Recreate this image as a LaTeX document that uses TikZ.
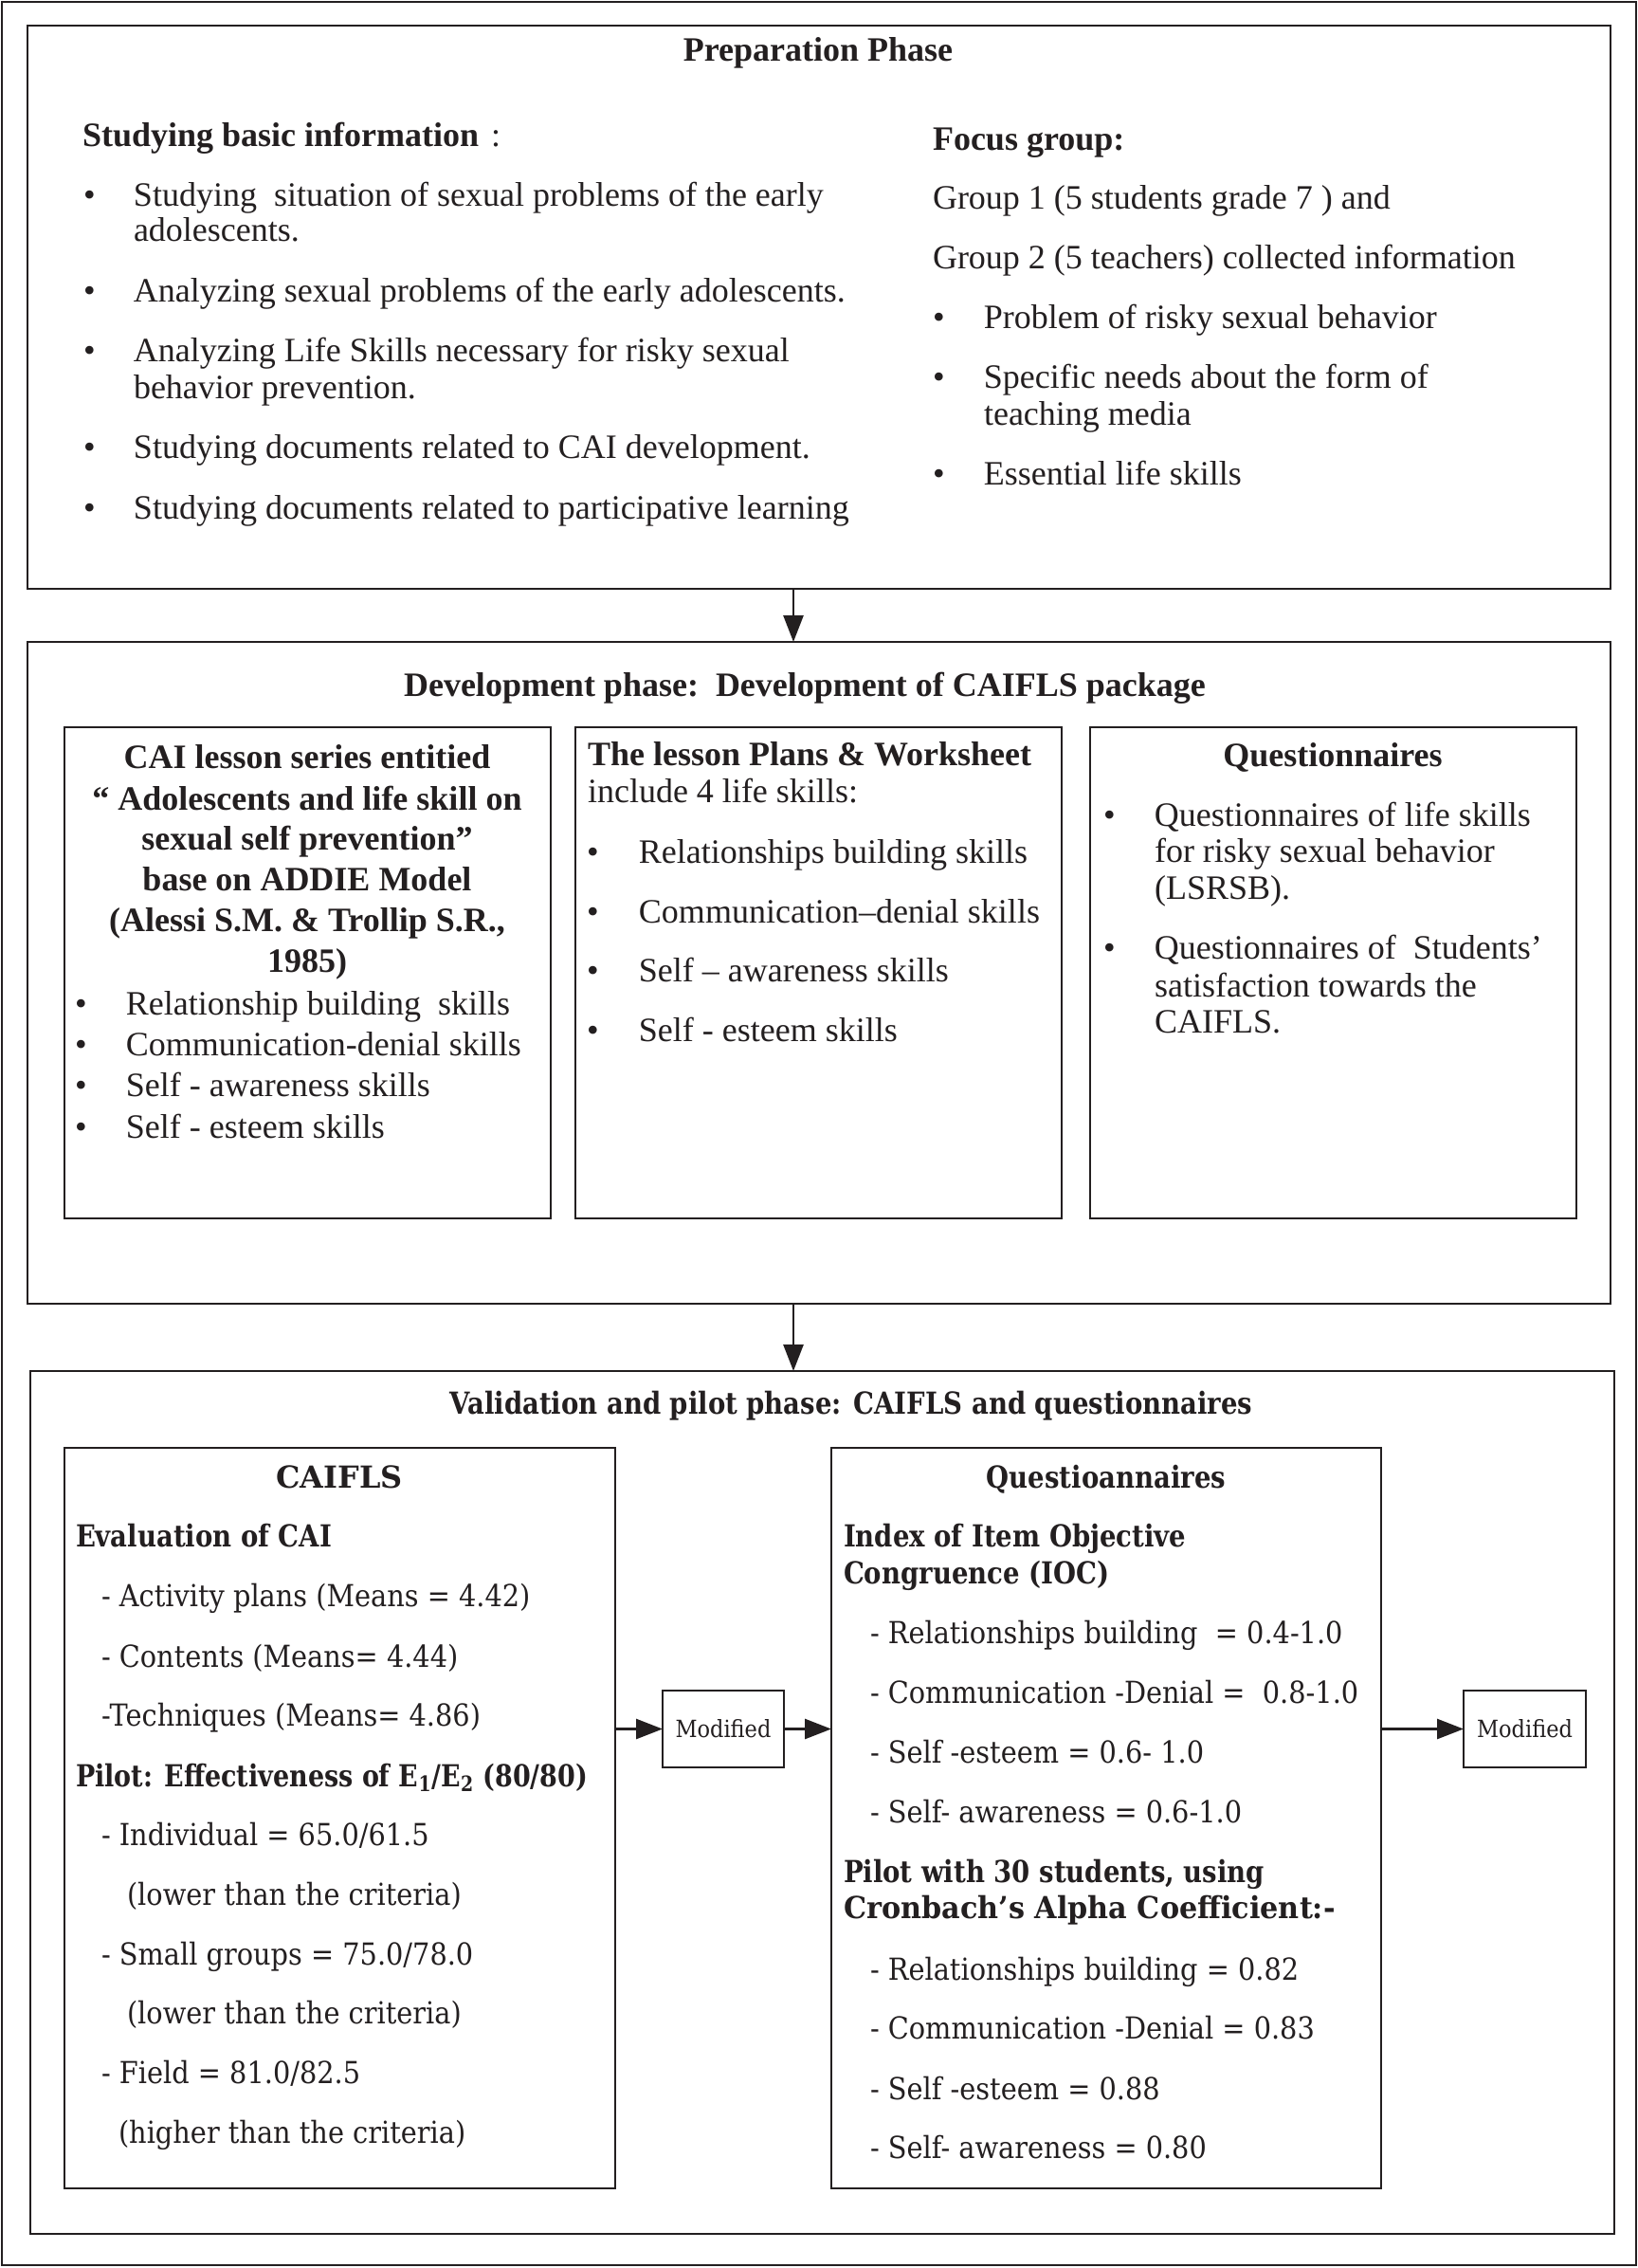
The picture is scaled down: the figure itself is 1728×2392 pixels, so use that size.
\documentclass[tikz,border=0pt]{standalone}
\usepackage{fontspec}
\setmainfont{Liberation Serif}
\newfontfamily\valfont[FakeStretch=0.90,BoldFeatures={FakeStretch=0.86}]{DejaVu Serif}
\usetikzlibrary{arrows.meta}
\definecolor{ink}{RGB}{35,31,32}
\newcommand\mybox[6][]{%
  \pgfmathsetmacro\bw{(#5-#3)*0.5}%
  \pgfmathsetmacro\bh{(#6-#4)*0.5}%
  \node[boxst,#1,minimum width=\bw pt,minimum height=\bh pt,anchor=north west] (#2) at (#3,#4) {};}
\newcommand\bul[1]{\makebox[#1][l]{\kern-3pt\textbullet}}
\tikzset{
  boxst/.style={draw=ink,line width=1.2pt,rectangle,inner sep=0pt,outer sep=0pt},
  tx/.style={inner sep=0pt,outer sep=0pt,anchor=base west,text=ink,font=\fontsize{18}{21}\selectfont},
  txb/.style={tx,font=\fontsize{18}{21}\selectfont\bfseries},
  txbc/.style={txb,anchor=base},
  vt/.style={inner sep=0pt,outer sep=0pt,anchor=base west,text=ink,font=\valfont\fontsize{16}{19}\selectfont},
  vtb/.style={vt,font=\valfont\fontsize{16}{19}\selectfont\bfseries},
  vtbc/.style={vtb,anchor=base},
  modt/.style={inner sep=0pt,outer sep=0pt,anchor=center,text=ink,font=\valfont\fontsize{12.5}{14}\selectfont},
  arr/.style={draw=ink,line width=1.35pt,-{Triangle[length=14pt,width=10.5pt]}},
}
\begin{document}
\begin{tikzpicture}[x=0.5pt,y=-0.5pt]
\useasboundingbox (0,0) rectangle (1728,2392);
\fill[white] (0,0) rectangle (1728,2392);
\draw[ink,line width=1.1pt] (2,2) rectangle (1726,2389);

% ---------------- Preparation phase
\mybox{prep}{29}{27}{1699}{621}
\node[txbc] (pt) at (863,65) {Preparation Phase};
\node[tx] (p0) at (87,155) {{\bfseries Studying basic information}\hspace{6.5pt}:};
\node[tx] (p1) at (94,218) {\bul{23.5pt}Studying\ \ situation of sexual problems of the early};
\node[tx] (p1b) at (141,255) {adolescents.};
\node[tx] (p2) at (94,318) {\bul{23.5pt}Analyzing sexual problems of the early adolescents.};
\node[tx] (p3) at (94,381) {\bul{23.5pt}Analyzing Life Skills necessary for risky sexual};
\node[tx] (p3b) at (141,420) {behavior prevention.};
\node[tx] (p4) at (94,483) {\bul{23.5pt}Studying documents related to CAI development.};
\node[tx] (p5) at (94,547) {\bul{23.5pt}Studying documents related to participative learning};
\node[txb] (f0) at (984,159) {Focus group:};
\node[tx] (f1) at (984,221) {Group 1 (5 students grade 7 ) and};
\node[tx] (f2) at (984,284) {Group 2 (5 teachers) collected information};
\node[tx] (f3) at (990,346) {\bul{24pt}Problem of risky sexual behavior};
\node[tx] (f4) at (990,409) {\bul{24pt}Specific needs about the form of};
\node[tx] (f4b) at (1038,448) {teaching media};
\node[tx] (f5) at (990,511) {\bul{24pt}Essential life skills};

% ---------------- Development phase
\mybox{dev}{29}{677}{1699}{1375}
\node[txbc] (dt) at (849,734) {Development phase:\ \ Development of CAIFLS package};
\mybox{d1}{68}{767}{581}{1285}
\node[txbc] (a1) at (324,810) {CAI lesson series entitied};
\node[txbc] (a2) at (324,854) {“ Adolescents and life skill on};
\node[txbc] (a3) at (324,896) {sexual self prevention”};
\node[txbc] (a4) at (324,939) {base on ADDIE Model};
\node[txbc] (a5) at (324,982) {(Alessi S.M. \& Trollip S.R.,};
\node[txbc] (a6) at (324,1025) {1985)};
\node[tx] (a7) at (85,1070) {\bul{24pt}Relationship building\ \ skills};
\node[tx] (a8) at (85,1113) {\bul{24pt}Communication-denial skills};
\node[tx] (a9) at (85,1156) {\bul{24pt}Self - awareness skills};
\node[tx] (a10) at (85,1200) {\bul{24pt}Self - esteem skills};
\mybox{d2}{607}{767}{1120}{1285}
\node[txb] (b1) at (620,807) {The lesson Plans \& Worksheet};
\node[tx] (b2) at (620,846) {include 4 life skills:};
\node[tx] (b3) at (625,910) {\bul{24.5pt}Relationships building skills};
\node[tx] (b4) at (625,973) {\bul{24.5pt}Communication–denial skills};
\node[tx] (b5) at (625,1035) {\bul{24.5pt}Self – awareness skills};
\node[tx] (b6) at (625,1098) {\bul{24.5pt}Self - esteem skills};
\mybox{d3}{1150}{767}{1663}{1285}
\node[txbc] (c1) at (1406,808) {Questionnaires};
\node[tx] (c2) at (1170,871) {\bul{24pt}Questionnaires of life skills};
\node[tx] (c2b) at (1218,909) {for risky sexual behavior};
\node[tx] (c2c) at (1218,948) {(LSRSB).};
\node[tx] (c3) at (1170,1011) {\bul{24pt}Questionnaires of\ \ Students’};
\node[tx] (c3b) at (1218,1051) {satisfaction towards the};
\node[tx] (c3c) at (1218,1089) {CAIFLS.};

% ---------------- Validation phase
\mybox{val}{32}{1446}{1703}{2356}
\node[vtbc] (vt) at (898,1491) {Validation and pilot phase: CAIFLS and questionnaires};
\mybox{cai}{68}{1527}{649}{2308}
\node[vtbc] (e0) at (358,1569) {\scalebox{1.16}[1]{CAIFLS}};
\node[vtb] (e1) at (80,1631) {Evaluation of CAI};
\node[vt] (e2) at (107,1694) {- Activity plans (Means = 4.42)};
\node[vt] (e3) at (107,1758) {- Contents (Means= 4.44)};
\node[vt] (e4) at (107,1820) {-Techniques (Means= 4.86)};
\node[vtb] (e5) at (80,1884) {\scalebox{0.98}[1]{Pilot: Effectiveness of E\textsubscript{1}/E\textsubscript{2} (80/80)}};
\node[vt] (e6) at (107,1946) {- Individual = 65.0/61.5};
\node[vt] (e7) at (134,2009) {(lower than the criteria)};
\node[vt] (e8) at (107,2072) {- Small groups = 75.0/78.0};
\node[vt] (e9) at (134,2134) {(lower than the criteria)};
\node[vt] (e10) at (107,2197) {- Field = 81.0/82.5};
\node[vt] (e11) at (125,2260) {(higher than the criteria)};

\mybox{mod1}{699}{1783}{827}{1864}
\node[modt] (m1) at (mod1.center) {Modified};

\mybox{quest}{877}{1527}{1457}{2308}
\node[vtbc] (q0) at (1167,1569) {Questioannaires};
\node[vtb] (q1) at (890,1631) {Index of Item Objective};
\node[vtb] (q2) at (890,1670) {Congruence (IOC)};
\node[vt] (q3) at (918,1733) {- Relationships building\ \ = 0.4-1.0};
\node[vt] (q4) at (918,1796) {- Communication -Denial =\ \ 0.8-1.0};
\node[vt] (q5) at (918,1859) {- Self -esteem = 0.6- 1.0};
\node[vt] (q6) at (918,1922) {- Self- awareness = 0.6-1.0};
\node[vtb] (q7) at (890,1985) {Pilot with 30 students, using};
\node[vtb] (q8) at (890,2023) {\scalebox{1.1}[1]{Cronbach’s Alpha Coefficient:-}};
\node[vt] (q9) at (918,2088) {- Relationships building = 0.82};
\node[vt] (q10) at (918,2150) {- Communication -Denial = 0.83};
\node[vt] (q11) at (918,2214) {- Self -esteem = 0.88};
\node[vt] (q12) at (918,2276) {- Self- awareness = 0.80};

\mybox{mod2}{1544}{1783}{1673}{1864}
\node[modt] (m2) at (mod2.center) {Modified};

% ---------------- connectors
\coordinate (ax) at (837,0);
\draw[arr] (prep.south -| ax) -- (dev.north -| ax);
\draw[arr] (dev.south -| ax) -- (val.north -| ax);
\draw[arr] (cai.east |- mod1.west) -- (mod1.west);
\draw[arr] (mod1.east) -- (quest.west |- mod1.east);
\draw[arr] (quest.east |- mod2.west) -- (mod2.west);
\end{tikzpicture}
\end{document}
